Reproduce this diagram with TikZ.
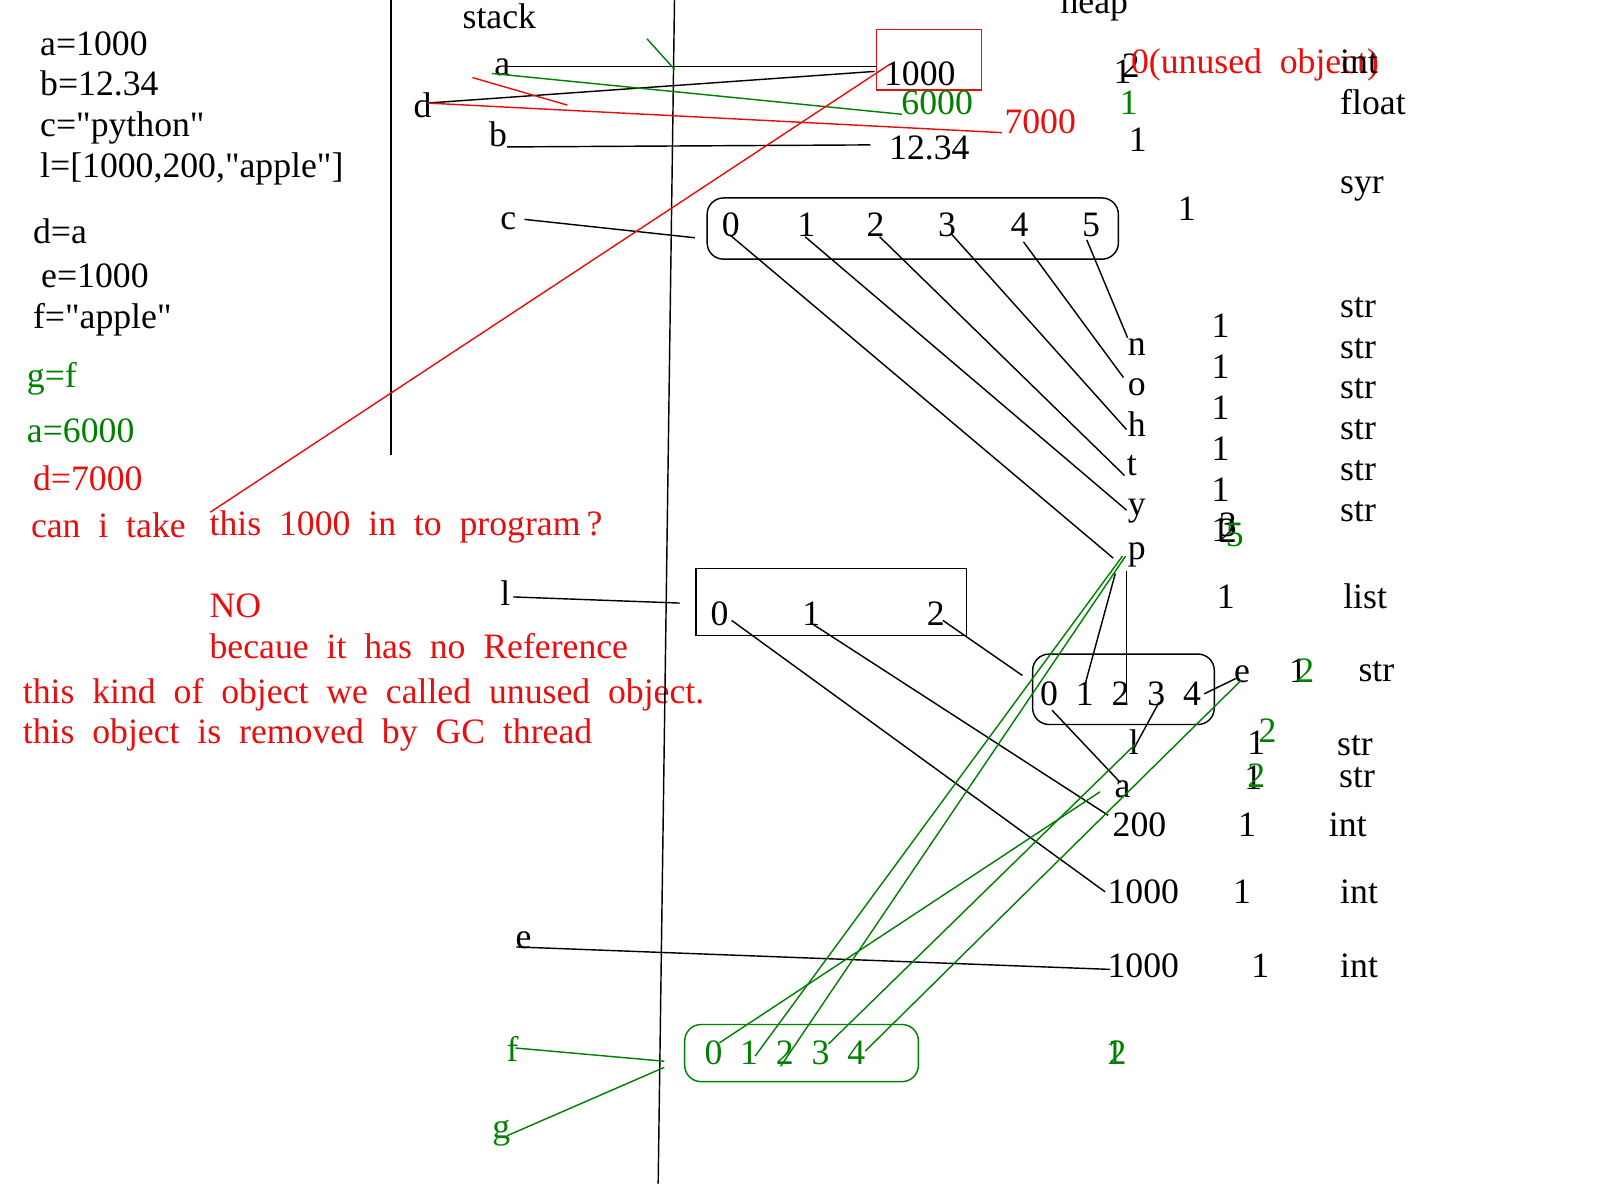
\documentclass[tikz,border=0pt]{standalone}
\usepackage{fontspec}
\setmainfont{Liberation Serif}[Ligatures=TeXOff]
\definecolor{rd}{RGB}{232,14,14}
\definecolor{gr}{RGB}{0,128,0}
\newcommand\myfs{\fontsize{17.5}{21}\selectfont\spaceskip=0.5em\relax}
\begin{document}
\begin{tikzpicture}[x=0.5pt,y=-0.5pt,
  t/.style={inner sep=0pt,anchor=base west,font=\myfs},
  ln/.style={line width=0.7pt},
  bl/.style={ln,draw=black},
  rl/.style={ln,draw=rd},
  gl/.style={ln,draw=gr},
  rbox/.style={ln,rounded corners=8pt}]
\useasboundingbox (0,0) rectangle (1568,1176);
\fill[white] (0,0) rectangle (1568,1176);

% ---------- left code ----------
\node[t] (L1) at (39,54) {a=1000};
\node[t] (L2) at (39,94) {b=12.34};
\node[t] (L3) at (39,134) {c="python"};
\node[t] (L4) at (39,174) {l=[1000,200,"apple"]};
\node[t] (L5) at (32,239) {d=a};
\node[t] (L6) at (40,282) {e=1000};
\node[t] (L7) at (32,322) {f="apple"};
\node[t,text=gr] (L8) at (26,380) {g=f};
\node[t,text=gr] (L9) at (26,434) {a=6000};
\node[t,text=rd] (L10) at (32,481) {d=7000};

% ---------- red remarks ----------
\node[t,text=rd] (q1) at (30,527) {can i take};
\node[t,text=rd] (q2) at (205,525) {this 1000 in to program\,?};
\node[t,text=rd] (q3) at (205,605) {NO};
\node[t,text=rd] (q4) at (205,645) {becaue it has no Reference};
\node[t,text=rd] (q5) at (22,689) {this kind of object we called unused object.};
\node[t,text=rd] (q6) at (22,729) {this object is removed by GC thread};

% ---------- headers and dividers ----------
\node[t] (stk) at (453,28) {stack};
\node[t] (hp) at (1039,13) {heap};
\coordinate (v1t) at (383,0); \coordinate (v1b) at (383,446);
\coordinate (v2t) at (661,0); \coordinate (v2b) at (645,1160);
\draw[bl] (v1t) -- (v1b);
\draw[bl] (v2t) -- (v2b);

% ---------- stack names ----------
\node[t] (sa) at (484,74) {a};
\node[t] (sd) at (405,115) {d};
\node[t] (sb) at (479,144) {b};
\node[t] (sc) at (490,225) {c};
\node[t] (sl) at (490,593) {l};
\node[t] (se) at (505,930) {e};
\node[t,text=gr] (sf) at (496,1040) {f};
\node[t,text=gr] (sg) at (482,1116) {g};

% ---------- heap: numbers ----------
\draw[rl] (859,29) rectangle (962,88);
\node[t] (v1000) at (866,84) {1000};
\node[t,text=gr] (v6000) at (883,112) {6000};
\node[t,text=rd] (v7000) at (984,131) {7000};
\node[t] (v1234) at (871,156) {12.34};

\node[t] (k1a) at (1091,82) {1};
\node[t] (k1b) at (1099,76) {2};
\node[t,text=rd] (k1c) at (1108,72) {0(unused object)};
\node[t] (ty1) at (1313,72) {int};
\node[t,text=gr] (k2) at (1097,112) {1};
\node[t] (ty2) at (1313,112) {float};
\node[t] (k3) at (1106,148) {1};
\node[t] (ty3) at (1313,190) {syr};
\node[t] (k4) at (1154,216) {1};

% ---------- "python" string object ----------
\draw[bl,rbox] (693,194) rectangle (1096,254);
\node[t] (p0) at (707,232) {0};
\node[t] (p1) at (781,232) {1};
\node[t] (p2) at (849,232) {2};
\node[t] (p3) at (919,232) {3};
\node[t] (p4) at (990,232) {4};
\node[t] (p5) at (1060,232) {5};
\node[t] (cn) at (1105,348) {n};
\node[t] (co) at (1105,388) {o};
\node[t] (ch) at (1105,428) {h};
\node[t] (ct) at (1104,466) {t};
\node[t] (cy) at (1105,505) {y};
\node[t] (cp) at (1105,548) {p};

\node[t] (n1) at (1187,331) {1};
\node[t] (n2) at (1187,371) {1};
\node[t] (n3) at (1187,411) {1};
\node[t] (n4) at (1187,451) {1};
\node[t] (n5) at (1187,491) {1};
\node[t] (n6a) at (1187,531) {1};
\node[t] (n6b) at (1194,532) {2};
\node[t] (n6c) at (1194,526) {3};
\node[t,text=gr] (n6d) at (1201,536) {5};
\node[t] (s1) at (1313,311) {str};
\node[t] (s2) at (1313,351) {str};
\node[t] (s3) at (1313,391) {str};
\node[t] (s4) at (1313,431) {str};
\node[t] (s5) at (1313,471) {str};
\node[t] (s6) at (1313,511) {str};

% ---------- list object ----------
\draw[bl] (682,557) rectangle (947,623);
\node[t] (l0) at (696,613) {0};
\node[t] (l1) at (786,613) {1};
\node[t] (l2) at (908,613) {2};
\node[t] (kl) at (1192,596) {1};
\node[t] (tyl) at (1316,596) {list};

% ---------- "apple" string object ----------
\draw[bl,rbox] (1012,641) rectangle (1190,710);
\node[t] (a0) at (1019,691) {0};
\node[t] (a1) at (1054,691) {1};
\node[t] (a2) at (1089,691) {2};
\node[t] (a3) at (1124,691) {3};
\node[t] (a4) at (1159,691) {4};
\node[t] (ce) at (1209,669) {e};
\node[t] (cl) at (1106,739) {l};
\node[t] (ca) at (1092,782) {a};

\node[t] (ke1) at (1263,669) {1};
\node[t,text=gr] (ke2) at (1270,669) {2};
\node[t] (tye) at (1331,668) {str};
\node[t] (kl1) at (1222,739) {1};
\node[t,text=gr] (kl2) at (1233,728) {2};
\node[t] (tyl2) at (1310,740) {str};
\node[t] (ka1) at (1219,774) {1};
\node[t,text=gr] (ka2) at (1222,772) {2};
\node[t] (tya) at (1312,772) {str};

\node[t] (i200) at (1090,820) {200};
\node[t] (k200) at (1213,820) {1};
\node[t] (t200) at (1302,820) {int};
\node[t] (i1000a) at (1085,885) {1000};
\node[t] (k1000a) at (1208,885) {1};
\node[t] (t1000a) at (1313,885) {int};
\node[t] (i1000b) at (1085,958) {1000};
\node[t] (k1000b) at (1226,958) {1};
\node[t] (t1000b) at (1313,958) {int};

% ---------- green list object ----------
\draw[gl,rbox] (671,1004) rectangle (900,1060);
\node[t,text=gr] (g0) at (690,1043) {0};
\node[t,text=gr] (g1) at (725,1043) {1};
\node[t,text=gr] (g2) at (760,1043) {2};
\node[t,text=gr] (g3) at (795,1043) {3};
\node[t,text=gr] (g4) at (830,1043) {4};
\node[t,text=gr] (kg1) at (1083,1043) {1};
\node[t,text=gr] (kg2) at (1086,1043) {2};

% ---------- connector end points ----------
\path (496,65) coordinate (aS) (859,65) coordinate (aE)
      (419,101) coordinate (dS) (857,70) coordinate (dE) (982,130) coordinate (dR)
      (482,72) coordinate (agS) (884,112) coordinate (agE)
      (497,144) coordinate (bS) (853,142) coordinate (bE)
      (514,215) coordinate (cS) (681,233) coordinate (cE)
      (463,76) coordinate (xS) (556,103) coordinate (xE)
      (634,38) coordinate (tkS) (661,68) coordinate (tkE)
      (206,502) coordinate (rS) (872,63) coordinate (rE)
      (715,230) coordinate (p0S) (1091,547) coordinate (p0E)
      (789,232) coordinate (p1S) (1104,500) coordinate (p1E)
      (862,232) coordinate (p2S) (1102,466) coordinate (p2E)
      (933,230) coordinate (p3S) (1104,421) coordinate (p3E)
      (1003,237) coordinate (p4S) (1101,370) coordinate (p4E)
      (1065,235) coordinate (p5S) (1105,331) coordinate (p5E)
      (503,585) coordinate (lS) (666,591) coordinate (lE)
      (717,608) coordinate (l0S) (1083,874) coordinate (l0E)
      (797,612) coordinate (l1S) (1086,799) coordinate (l1E)
      (924,608) coordinate (l2S) (1002,662) coordinate (l2E)
      (1093,562) coordinate (pa1S) (1063,672) coordinate (pa1E)
      (1104,560) coordinate (pa2S) (1104,688) coordinate (pa2E)
      (1031,696) coordinate (a0S) (1098,767) coordinate (a0E)
      (1136,688) coordinate (a3S) (1112,732) coordinate (a3E)
      (1180,680) coordinate (a4S) (1211,665) coordinate (a4E)
      (506,928) coordinate (eS) (1088,950) coordinate (eE)
      (505,1027) coordinate (fS) (651,1040) coordinate (fE)
      (497,1113) coordinate (gS) (651,1046) coordinate (gE)
      (705,1022) coordinate (g0S) (1078,776) coordinate (g0E)
      (740,1035) coordinate (g1S) (1100,545) coordinate (g1E)
      (765,1045) coordinate (g2S) (1103,545) coordinate (g2E)
      (812,1023) coordinate (g3S) (1113,729) coordinate (g3E)
      (848,1030) coordinate (g4S) (1216,667) coordinate (g4E);

% ---------- connectors ----------
\draw[bl] (aS) -- (aE);
\draw[bl] (dS) -- (dE);
\draw[rl] (dS) -- (dR);
\draw[gl] (agS) -- (agE);
\draw[bl] (bS) -- (bE);
\draw[bl] (cS) -- (cE);
\draw[rl] (xS) -- (xE);
\draw[gl] (tkS) -- (tkE);
\draw[rl] (rS) -- (rE);
\draw[bl] (p0S) -- (p0E);
\draw[bl] (p1S) -- (p1E);
\draw[bl] (p2S) -- (p2E);
\draw[bl] (p3S) -- (p3E);
\draw[bl] (p4S) -- (p4E);
\draw[bl] (p5S) -- (p5E);
\draw[bl] (lS) -- (lE);
\draw[bl] (l0S) -- (l0E);
\draw[bl] (l1S) -- (l1E);
\draw[bl] (l2S) -- (l2E);
\draw[bl] (pa1S) -- (pa1E);
\draw[bl] (pa2S) -- (pa2E);
\draw[bl] (a0S) -- (a0E);
\draw[bl] (a3S) -- (a3E);
\draw[bl] (a4S) -- (a4E);
\draw[bl] (eS) -- (eE);
\draw[gl] (fS) -- (fE);
\draw[gl] (gS) -- (gE);
\draw[gl] (g0S) -- (g0E);
\draw[gl] (g1S) -- (g1E);
\draw[gl] (g2S) -- (g2E);
\draw[gl] (g3S) -- (g3E);
\draw[gl] (g4S) -- (g4E);
\end{tikzpicture}
\end{document}
